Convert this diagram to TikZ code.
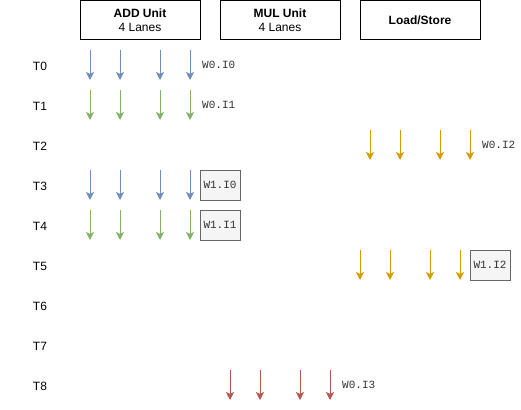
\documentclass[tikz,border=0pt]{standalone}
\usepackage{fontspec}
\setmainfont{Liberation Sans}
\newfontfamily\monof{Liberation Mono}
\usetikzlibrary{arrows.meta}
\definecolor{cblue}{HTML}{6C8EBF}
\definecolor{cgreen}{HTML}{82B366}
\definecolor{corange}{HTML}{D79B00}
\definecolor{cred}{HTML}{B85450}
\definecolor{lblfill}{HTML}{F5F5F5}
\definecolor{lbldraw}{HTML}{666666}
\begin{document}
\begin{tikzpicture}[x=1pt,y=-1pt,
  unitbox/.style={draw=black,line width=1pt,minimum width=120pt,minimum height=39pt,inner sep=0pt,align=center,font=\fontsize{12}{14}\selectfont},
  tlabel/.style={font=\fontsize{12}{14}\selectfont,inner sep=0pt},
  lanearrow/.style={line width=1pt,-{Stealth[length=8pt,width=8pt,inset=2pt]}},
  wlabel/.style={font=\monof\fontsize{11}{13}\selectfont,text=black!80,inner sep=0pt,anchor=west},
  wbox/.style={draw=lbldraw,fill=lblfill,line width=1pt,minimum width=40pt,minimum height=30pt,inner sep=0pt,font=\monof\fontsize{11}{13}\selectfont,text=black!80}
]
\useasboundingbox (0,0) rectangle (521,409);
% unit boxes
\node[unitbox] (add) at (140,20.5) {\textbf{ADD Unit}\\4 Lanes};
\node[unitbox] (mul) at (280,20.5) {\textbf{MUL Unit}\\4 Lanes};
\node[unitbox] (ls) at (420,20.5) {\textbf{Load/Store}};
% time labels
\foreach \i in {0,...,8}{
  \node[tlabel] (t\i) at (40,{66+40*\i}) {T\i};
}
% lane arrows
\newcommand{\lanes}[4]{% #1 color, #2 x0, #3 y top, #4 name
  \foreach \dx [count=\k] in {0,30,70,100}{
    \coordinate (#4s\k) at ({#2+\dx},#3);
    \coordinate (#4e\k) at ({#2+\dx},{#3+30});
    \draw[lanearrow,draw=#1,fill=#1] (#4s\k) -- (#4e\k);
  }
}
\lanes{cblue}{90}{50}{a}
\lanes{cgreen}{90}{90}{b}
\lanes{corange}{370}{130}{c}
\lanes{cblue}{90}{170}{d}
\lanes{cgreen}{90}{210}{e}
\lanes{corange}{360}{250}{f}
\lanes{cred}{230}{370}{g}
% instruction labels
\node[wlabel] (w0i0) at (202,65) {W0.I0};
\node[wlabel] (w0i1) at (202,105) {W0.I1};
\node[wlabel] (w0i2) at (482,145) {W0.I2};
\node[wbox] (w1i0) at (220,185) {W1.I0};
\node[wbox] (w1i1) at (220,225) {W1.I1};
\node[wbox] (w1i2) at (490,265) {W1.I2};
\node[wlabel] (w0i3) at (342,385) {W0.I3};
\end{tikzpicture}
\end{document}
